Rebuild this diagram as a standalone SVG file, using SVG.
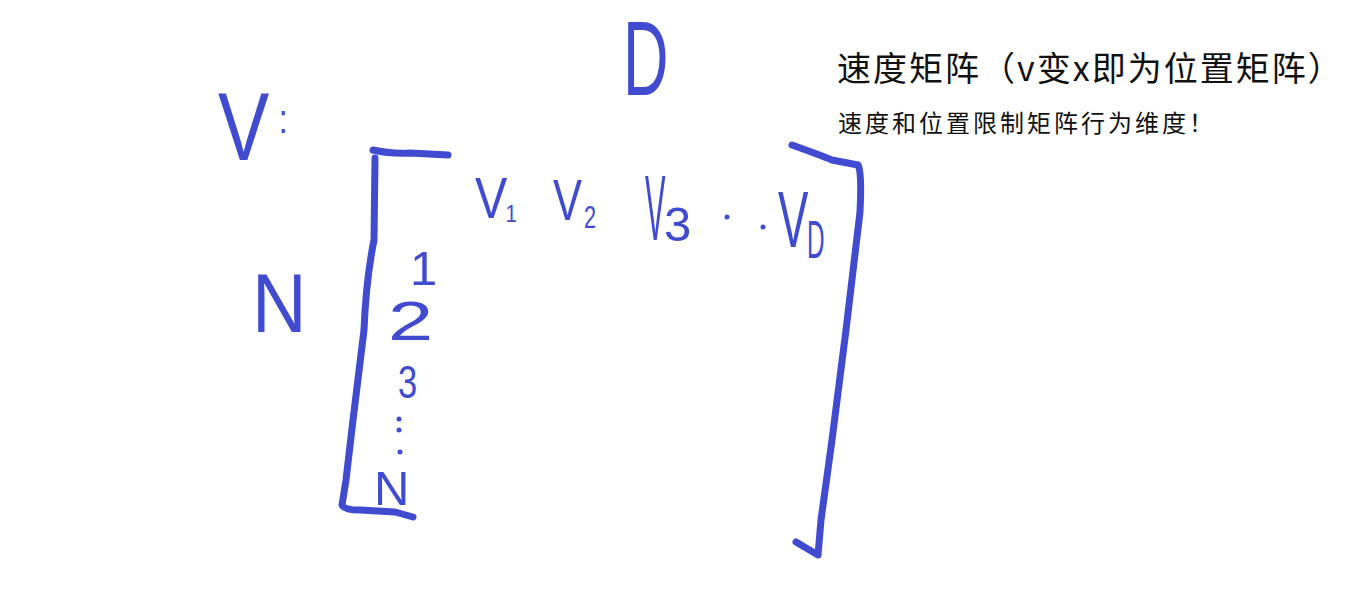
<svg xmlns="http://www.w3.org/2000/svg" width="1350" height="589" viewBox="0 0 1350 589">
<style>
.ink{fill:none;stroke:#404BCF;stroke-width:7;stroke-linecap:round;stroke-linejoin:round}
.dot{fill:#404BCF}
.hw{font-family:"Liberation Sans",Arial,sans-serif;fill:#404BCF}
.note{font-family:"Noto Sans CJK SC","Noto Sans",sans-serif;fill:#111}
</style>
<rect width="1350" height="589" fill="#fff"/>
<g id="title">
<text class="note" x="837" y="81" font-size="34" letter-spacing="2">速度矩阵（v变x即为位置矩阵）</text>
<text class="note" x="838" y="132" font-size="24" letter-spacing="3">速度和位置限制矩阵行为维度！</text>
</g>
<g id="label-V"><text class="hw" transform="translate(218,160) scale(0.8,1)" font-size="96">V<tspan font-size="40" dx="12" dy="-27">:</tspan></text></g>
<g id="label-D"><text class="hw" transform="translate(623,95) scale(0.6,1)" font-size="105">D</text></g>
<g id="label-N"><text class="hw" transform="translate(252,332) scale(0.9,1)" font-size="84">N</text></g>
<g id="matrix">
<path class="ink" d="M373,150 Q390,154 410,153 L448,155"/>
<path class="ink" d="M375,158 L374,240 Q366,280 364,330 L353,420 L346,480 L342,505 Q344,510 360,510 L395,512 L413,517"/>
<path class="ink" d="M792,145 Q820,155 832,160 Q848,163 858,165 Q862,172 860,212 L846,330 L832,440 L821,520 L818,555 L796,542"/>
</g>
<g id="rows">
<text class="hw" x="410" y="285" font-size="49">1</text>
<text class="hw" transform="translate(388,340) scale(1.45,1)" font-size="56">2</text>
<text class="hw" transform="translate(398,398) scale(0.75,1)" font-size="46">3</text>
<circle class="dot" cx="399" cy="419" r="2.5"/>
<circle class="dot" cx="399" cy="430" r="2.5"/>
<circle class="dot" cx="400" cy="452" r="2.5"/>
<text class="hw" x="374" y="505" font-size="49">N</text>
</g>
<g id="cols">
<text class="hw" transform="translate(475,218) scale(0.85,1)" font-size="57">V<tspan font-size="24" dx="-2" dy="4">1</tspan></text>
<text class="hw" transform="translate(553,220) scale(0.75,1)" font-size="58">V</text>
<text class="hw" transform="translate(584,228) scale(0.7,1)" font-size="31">2</text>
<text class="hw" transform="translate(645,240) scale(0.33,1)" font-size="93">V</text>
<text class="hw" x="664" y="241" font-size="49">3</text>
<circle class="dot" cx="727" cy="217" r="2.5"/>
<circle class="dot" cx="763" cy="227" r="2.5"/>
<text class="hw" transform="translate(778,247) scale(0.57,1)" font-size="80">V</text>
<text class="hw" transform="translate(807,258) scale(0.45,1)" font-size="54">D</text>
</g>
</svg>
